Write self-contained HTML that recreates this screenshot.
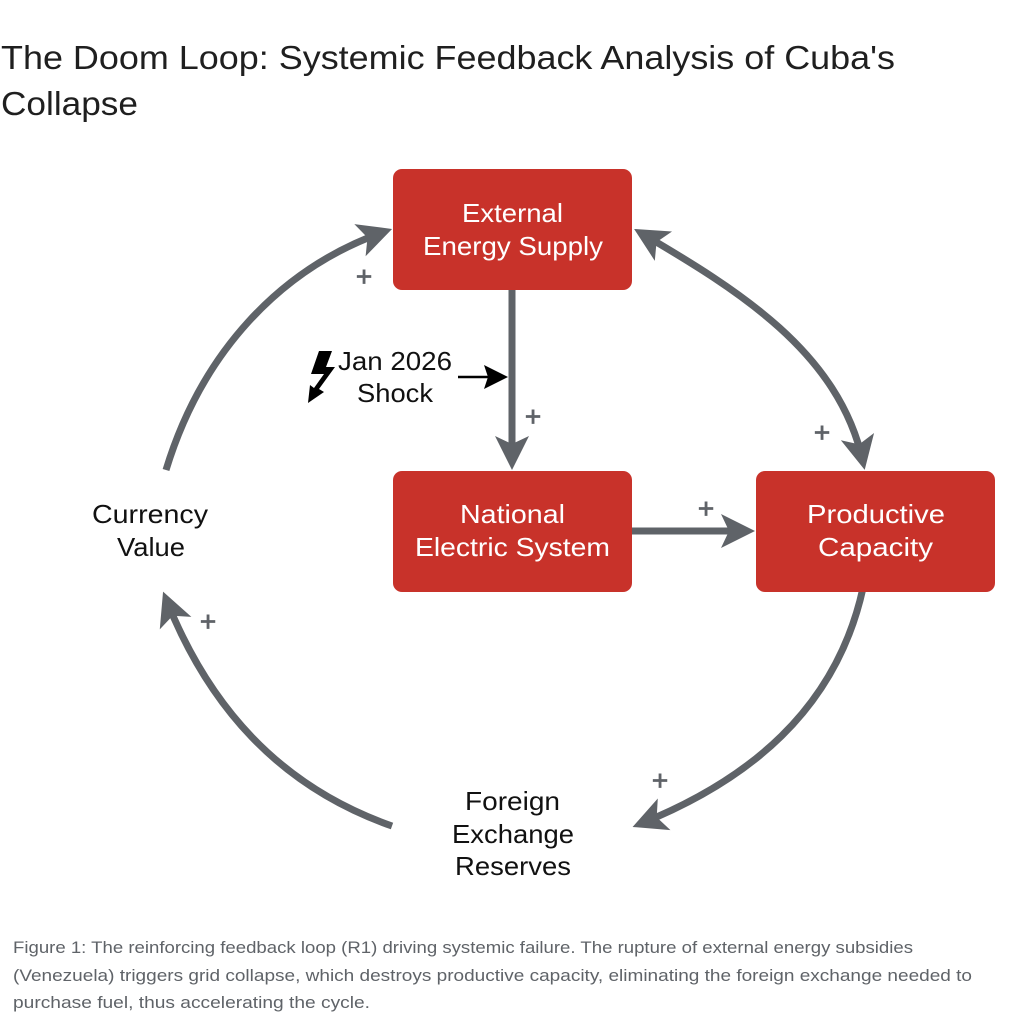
<!DOCTYPE html>
<html>
<head>
<meta charset="utf-8">
<style>
  html,body{margin:0;padding:0;background:#ffffff;}
  svg{display:block;}
  text{font-family:"Liberation Sans",sans-serif;}
</style>
</head>
<body>
<svg width="1024" height="1024" viewBox="0 0 1024 1024" xmlns="http://www.w3.org/2000/svg">
  <defs>
    <marker id="ah" viewBox="-36 -18 46 36" refX="-8" refY="0" markerWidth="46" markerHeight="36" orient="auto" markerUnits="userSpaceOnUse">
      <path d="M0,0 L-34,-17 L-26,0 L-34,17 Z" fill="#5f6368"/>
    </marker>
    <marker id="ahs" viewBox="-36 -18 46 36" refX="-8" refY="0" markerWidth="46" markerHeight="36" orient="auto-start-reverse" markerUnits="userSpaceOnUse">
      <path d="M0,0 L-34,-17 L-26,0 L-34,17 Z" fill="#5f6368"/>
    </marker>
  </defs>

  <rect x="0" y="0" width="1024" height="1024" fill="#ffffff"/>

  <!-- Title -->
  <text x="1" y="69" font-size="33" fill="#1f1f1f" textLength="894" lengthAdjust="spacingAndGlyphs">The Doom Loop: Systemic Feedback Analysis of Cuba's</text>
  <text x="1" y="115" font-size="33" fill="#1f1f1f" textLength="137" lengthAdjust="spacingAndGlyphs">Collapse</text>

  <!-- Connectors -->
  <g fill="none" stroke="#5f6368" stroke-width="7" stroke-linecap="butt">
    <path d="M512,288 L512,462" marker-end="url(#ah)"/>
    <path d="M630,531 L747,531" marker-end="url(#ah)"/>
    <path d="M641,233 C738,290 839,352 863,462" marker-start="url(#ahs)" marker-end="url(#ah)"/>
    <path d="M863,588 C836,711 747,781 640,824" marker-end="url(#ah)"/>
    <path d="M392,826 C278,786 208,705 166,599" marker-end="url(#ah)"/>
    <path d="M166,470 C201,355 278,269 384.5,231.6" marker-end="url(#ah)"/>
  </g>

  <!-- Boxes -->
  <rect x="393" y="169" width="239" height="121" rx="9" ry="9" fill="#c8322a"/>
  <rect x="393" y="471" width="239" height="121" rx="9" ry="9" fill="#c8322a"/>
  <rect x="756" y="471" width="239" height="121" rx="9" ry="9" fill="#c8322a"/>

  <!-- Box labels -->
  <g fill="#ffffff" font-size="26">
    <text x="462" y="222" textLength="101" lengthAdjust="spacingAndGlyphs">External</text>
    <text x="423" y="255" textLength="180" lengthAdjust="spacingAndGlyphs">Energy Supply</text>
    <text x="460" y="523" textLength="105" lengthAdjust="spacingAndGlyphs">National</text>
    <text x="415" y="556" textLength="195" lengthAdjust="spacingAndGlyphs">Electric System</text>
    <text x="807" y="523" textLength="138" lengthAdjust="spacingAndGlyphs">Productive</text>
    <text x="818" y="556" textLength="115" lengthAdjust="spacingAndGlyphs">Capacity</text>
  </g>

  <!-- Plain labels -->
  <g fill="#111111" font-size="26">
    <text x="92" y="523" textLength="116" lengthAdjust="spacingAndGlyphs">Currency</text>
    <text x="117" y="556" textLength="68" lengthAdjust="spacingAndGlyphs">Value</text>
    <text x="465" y="810" textLength="95" lengthAdjust="spacingAndGlyphs">Foreign</text>
    <text x="452" y="843" textLength="122" lengthAdjust="spacingAndGlyphs">Exchange</text>
    <text x="455" y="875" textLength="116" lengthAdjust="spacingAndGlyphs">Reserves</text>
    <text x="338" y="370" textLength="114" lengthAdjust="spacingAndGlyphs">Jan 2026</text>
    <text x="357" y="402" textLength="76" lengthAdjust="spacingAndGlyphs">Shock</text>
  </g>

  <!-- Lightning bolt -->
  <path d="M319,351 L332,351 L326,367 L335,367 L319,389 L324,392 L308,403 L310,385 L314,388 L324,374 L311,374 Z" fill="#000000"/>

  <!-- Shock arrow -->
  <line x1="458" y1="377" x2="490" y2="377" stroke="#000000" stroke-width="2.5"/>
  <path d="M508,377 L484,365 L488,377 L484,389 Z" fill="#000000"/>

  <!-- Plus signs -->
  <g fill="#5f6368" stroke="#5f6368" stroke-width="0.8" font-size="28" text-anchor="middle">
    <text x="364" y="286">+</text>
    <text x="533" y="426">+</text>
    <text x="706" y="518">+</text>
    <text x="822" y="442">+</text>
    <text x="660" y="790">+</text>
    <text x="208" y="631">+</text>
  </g>

  <!-- Caption -->
  <g fill="#5f6368" font-size="17">
    <text x="13" y="953" textLength="900" lengthAdjust="spacingAndGlyphs">Figure 1: The reinforcing feedback loop (R1) driving systemic failure. The rupture of external energy subsidies</text>
    <text x="13" y="981" textLength="959" lengthAdjust="spacingAndGlyphs">(Venezuela) triggers grid collapse, which destroys productive capacity, eliminating the foreign exchange needed to</text>
    <text x="13" y="1008" textLength="357" lengthAdjust="spacingAndGlyphs">purchase fuel, thus accelerating the cycle.</text>
  </g>
</svg>
</body>
</html>
